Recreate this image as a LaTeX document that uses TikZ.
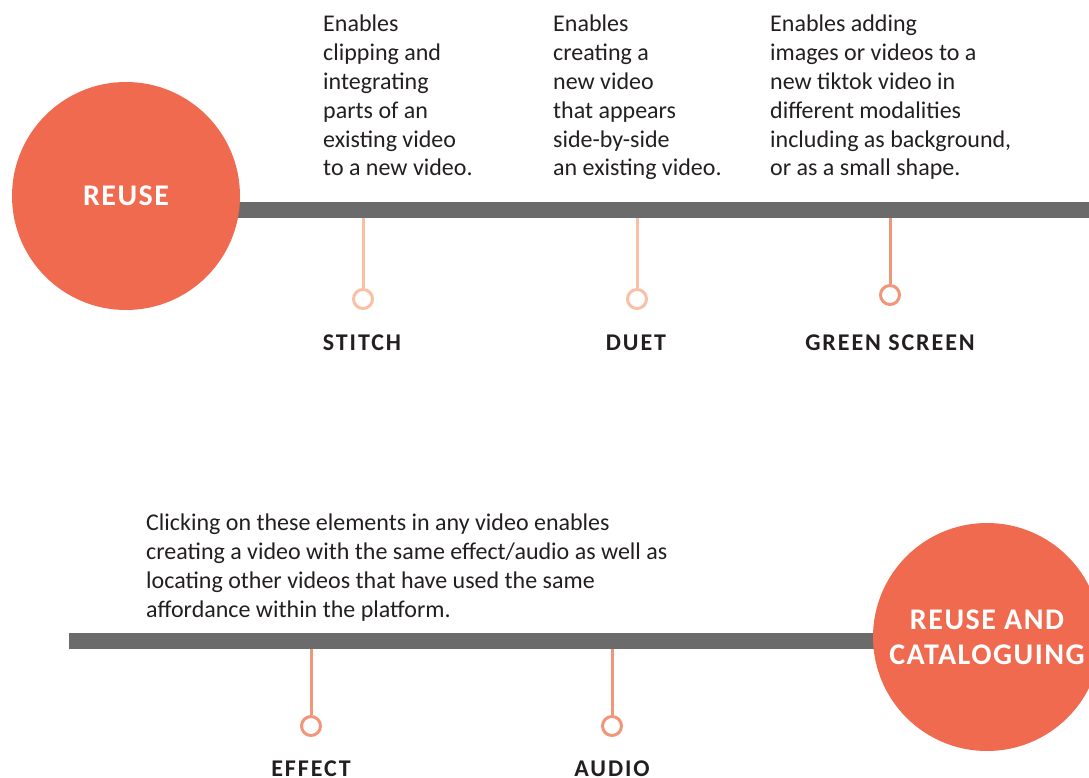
\documentclass[tikz,border=0pt]{standalone}
\usepackage{fontspec}
\setmainfont{Carlito}
\newfontfamily\hubfont{Carlito}[LetterSpace=5]
\newfontfamily\tagfont{Carlito}[LetterSpace=8]
\usetikzlibrary{positioning}
\definecolor{tl-coral}{HTML}{F06A50}
\definecolor{tl-bar}{HTML}{6B6B6B}
\definecolor{tl-peach}{HTML}{F9C0A6}
\definecolor{tl-salmon}{HTML}{F0967A}
\definecolor{tl-ink}{HTML}{231F20}
\tikzset{
  hub/.style={circle,fill=tl-coral,minimum size=228pt,inner sep=0pt,text=white,align=center,
    font=\hubfont\bfseries\fontsize{30}{35}\selectfont},
  bar/.style={tl-bar,line width=16pt},
  stem/.style={#1,line width=3pt},
  dot/.style={circle,draw=#1,fill=white,line width=3pt,minimum size=19pt,inner sep=0pt},
  tag/.style={anchor=base,text=tl-ink,font=\tagfont\bfseries\fontsize{24}{28}\selectfont},
  blurb/.style={anchor=north west,align=left,inner sep=0pt,text=tl-ink,
    font=\fontsize{24}{28.8}\selectfont}
}

\begin{document}
\begin{tikzpicture}[x=1pt,y=-1pt]
      \useasboundingbox (0,0) rectangle (1089,778);
      % top line
      \coordinate (top-in) at (200,210);
      \coordinate (top-end) at (1089,210);
      \draw[bar] (top-in) -- (top-end);
      \node[hub] (reuse) at (126,196) {REUSE};
      \coordinate (stitch-tap) at (363,218);
      \coordinate (duet-tap) at (637,218);
      \coordinate (green-tap) at (890,218);
      \node[dot=tl-peach] (stitch-dot) at (363,299) {};
      \node[dot=tl-peach] (duet-dot) at (637,299) {};
      \node[dot=tl-salmon] (green-dot) at (890,295) {};
      \draw[stem=tl-peach] (stitch-tap) -- (stitch-dot);
      \draw[stem=tl-peach] (duet-tap) -- (duet-dot);
      \draw[stem=tl-salmon] (green-tap) -- (green-dot);
      \node[tag] (stitch) at (362,350) {STITCH};
      \node[tag] (duet) at (636,350) {DUET};
      \node[tag] (green) at (890,350) {GREEN SCREEN};
      \node[blurb] (stitch-text) at (323,15) {Enables\\clipping and\\integrating\\parts of an\\existing video\\to a new video.};
      \node[blurb] (duet-text) at (553,15) {Enables\\creating a\\new video\\that appears\\side-by-side\\an existing video.};
      \node[blurb] (green-text) at (770,15) {Enables adding\\images or videos to a\\new tiktok video in\\different modalities\\including as background,\\or as a small shape.};
      % bottom line
      \coordinate (low-start) at (69,641);
      \coordinate (low-in) at (950,641);
      \draw[bar] (low-start) -- (low-in);
      \node[hub] (catalogue) at (987,637) {REUSE AND\\CATALOGUING};
      \coordinate (effect-tap) at (311,649);
      \coordinate (audio-tap) at (612,649);
      \node[dot=tl-salmon] (effect-dot) at (311,726) {};
      \node[dot=tl-salmon] (audio-dot) at (612,726) {};
      \draw[stem=tl-salmon] (effect-tap) -- (effect-dot);
      \draw[stem=tl-salmon] (audio-tap) -- (audio-dot);
      \node[tag] (effect) at (311,776) {EFFECT};
      \node[tag] (audio) at (612,776) {AUDIO};
      \node[blurb] (shared-text) at (146,514) {Clicking on these elements in any video enables\\creating a video with the same effect/audio as well as\\locating other videos that have used the same\\affordance within the platform.};
    \end{tikzpicture}
\end{document}
